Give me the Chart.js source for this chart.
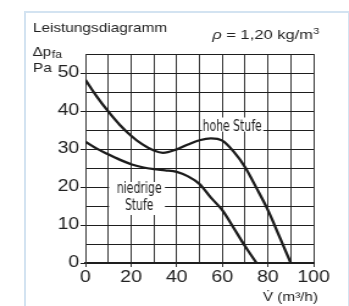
<!DOCTYPE html>
<html>
<head>
<meta charset="utf-8">
<script src="https://cdn.jsdelivr.net/npm/chart.js@4/dist/chart.umd.min.js"></script>
<style>
  html, body { margin: 0; padding: 0; background: #ffffff; }
  #wrap { position: relative; width: 349px; height: 306px; overflow: hidden; }
  #frame { position: absolute; left: 24px; top: 11px; width: 322px; height: 400px; border: 2px solid #d3e3f1; }
  #c { position: absolute; left: 0; top: 0; transform: scaleX(1.22); transform-origin: 0 0; }
</style>
</head>
<body>
<div id="wrap">
  <div id="frame"></div>
  <canvas id="c" width="286" height="306"></canvas>
</div>
<script>
// ---- data ----
const flowHigh     = [0, 5, 10, 15, 20, 25, 30, 34, 40, 45, 50, 55, 60, 65, 70, 75, 80, 85, 90];
const pressureHigh = [48.2, 43.8, 39.9, 36.4, 33.5, 31.2, 29.6, 29.0, 29.9, 31.2, 32.3, 32.8, 32.2, 29.3, 25.2, 19.7, 13.9, 7.0, 0];
const flowLow      = [0, 5, 10, 15, 20, 25, 30, 35, 40, 45, 50, 55, 60, 65, 70, 75];
const pressureLow  = [31.9, 30.1, 28.6, 27.2, 26.0, 25.2, 24.7, 24.4, 24.0, 22.8, 20.8, 17.2, 13.9, 9.2, 4.4, 0];
const yTickLabels  = [0, 10, 20, 30, 40, 50];
const xTickLabels  = [0, 20, 40, 60, 80, 100];
const seriesNames  = ['hohe Stufe', 'niedrige Stufe'];

const toPoints = (xs, ys) => xs.map((x, i) => ({ x: x, y: ys[i] }));

const SANS = '"Liberation Sans", Arial, Helvetica, sans-serif';
const NARROW = '"Liberation Sans Narrow", "DejaVu Sans Condensed", "Liberation Sans", sans-serif';

function fitText(ctx, str, cx, baseline, font, width) {
  ctx.save();
  ctx.font = font;
  ctx.textAlign = 'left';
  ctx.textBaseline = 'alphabetic';
  const w = ctx.measureText(str).width;
  const k = width / w;
  ctx.translate(cx - width / 2, baseline);
  ctx.scale(k, 1);
  ctx.fillText(str, 0, 0);
  ctx.restore();
}

const annotations = {
  id: 'annotations',
  afterDraw(chart) {
    const ctx = chart.ctx;
    ctx.save();
    ctx.fillStyle = '#222';
    ctx.textBaseline = 'alphabetic';
    ctx.textAlign = 'left';

    // heading texts
    ctx.font = '12.6px ' + SANS;
    ctx.fillText('Leistungsdiagramm', 27, 31.5);
    ctx.fillText('Pa', 27, 71.7);
    ctx.font = '12.4px ' + SANS;
    ctx.fillText('\u0394p', 26.8, 55.5);
    const wd = ctx.measureText('\u0394p').width;
    ctx.font = '10px ' + SANS;
    ctx.fillText('fa', 26.8 + wd + 0.6, 58.3);

    // density
    ctx.font = 'italic 13.5px ' + SANS;
    ctx.fillText('\u03C1', 174, 39.3);
    const wr = ctx.measureText('\u03C1').width;
    ctx.font = '13.5px ' + SANS;
    const s1 = ' = 1,20 kg/m';
    ctx.fillText(s1, 174 + wr, 39.3);
    const w1 = ctx.measureText(s1).width;
    ctx.font = '9px ' + SANS;
    ctx.fillText('3', 174 + wr + w1 + 0.3, 34);

    // axis title
    ctx.font = '12.5px ' + SANS;
    ctx.textAlign = 'right';
    const tail = ' (m\u00B3/h)';
    ctx.fillText(tail, 260.7, 301);
    const wt = ctx.measureText(tail).width;
    ctx.fillText('V\u0307', 260.7 - wt, 301);
    ctx.textAlign = 'left';

    // curve labels with white boxes
    ctx.fillStyle = '#ffffff';
    ctx.fillRect(165.5, 117.5, 50.3, 14);
    ctx.fillRect(89.4, 182, 45.8, 33);
    ctx.fillStyle = '#222';
    fitText(ctx, 'hohe Stufe', 190.3, 130.7, '15px ' + NARROW, 48.4);
    fitText(ctx, 'niedrige', 114.1, 192.9, '15px ' + NARROW, 36.9);
    fitText(ctx, 'Stufe', 114.1, 210.2, '15px ' + NARROW, 23.2);
    ctx.restore();
  }
};

new Chart(document.getElementById('c'), {
  type: 'scatter',
  data: {
    datasets: [
      {
        label: seriesNames[0],
        data: toPoints(flowHigh, pressureHigh),
        showLine: true,
        borderColor: '#1c1c1c',
        borderWidth: 2.3,
        pointRadius: 0,
        cubicInterpolationMode: 'monotone',
        fill: false
      },
      {
        label: seriesNames[1],
        data: toPoints(flowLow, pressureLow),
        showLine: true,
        borderColor: '#1c1c1c',
        borderWidth: 2.3,
        pointRadius: 0,
        cubicInterpolationMode: 'monotone',
        fill: false
      }
    ]
  },
  options: {
    responsive: false,
    animation: false,
    devicePixelRatio: 1,
    layout: { padding: { left: 0, right: 29, top: 54, bottom: 0 } },
    plugins: { legend: { display: false }, tooltip: { enabled: false }, title: { display: false } },
    scales: {
      x: {
        type: 'linear',
        min: 0, max: 100,
        afterFit(s) { s.height = 43; },
        border: { display: true, color: '#1e1e1e', width: 2 },
        grid: {
          color: '#3a3a3a',
          lineWidth: 1,
          drawTicks: true,
          tickLength: 4,
          tickColor: (c) => (c.tick && xTickLabels.includes(c.tick.value)) ? '#3a3a3a' : 'rgba(0,0,0,0)'
        },
        ticks: {
          stepSize: 10,
          autoSkip: false,
          maxRotation: 0,
          padding: 1,
          color: '#222',
          font: { family: SANS, size: 16 },
          callback: (v) => xTickLabels.includes(v) ? String(v) : ''
        }
      },
      y: {
        type: 'linear',
        min: 0, max: 55,
        afterFit(s) { s.width = 70; },
        border: { display: true, color: '#3a3a3a', width: 1 },
        grid: {
          color: '#1e1e1e',
          lineWidth: 1,
          drawTicks: true,
          tickLength: 4,
          tickColor: (c) => (c.tick && yTickLabels.includes(c.tick.value)) ? '#1e1e1e' : 'rgba(0,0,0,0)'
        },
        ticks: {
          stepSize: 5,
          autoSkip: false,
          padding: 1,
          color: '#222',
          font: { family: SANS, size: 16 },
          callback: (v) => yTickLabels.includes(v) ? String(v) : ''
        }
      }
    }
  },
  plugins: [annotations]
});
</script>
</body>
</html>
